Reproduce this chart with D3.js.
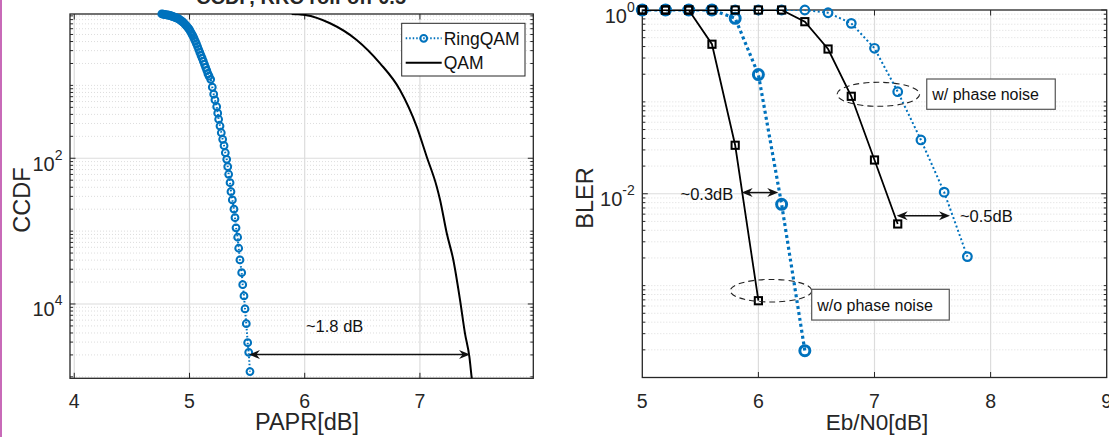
<!DOCTYPE html>
<html>
<head>
<meta charset="utf-8">
<script src="https://cdn.jsdelivr.net/npm/d3@7"></script>
<style>
  body { margin: 0; background: #fff; }
  svg { display: block; font-family: "Liberation Sans", Arial, Helvetica, sans-serif; }
</style>
</head>
<body>
<svg id="chart" width="1109" height="437"></svg>
<script>
// ---- left panel : CCDF of PAPR
var paprRing = [4.76,4.77,4.78,4.79,4.80,4.81,4.82,4.83,4.84,4.85,4.86,4.87,4.88,4.89,4.90,
  4.91,4.92,4.93,4.94,4.95,4.96,4.97,4.98,4.99,5.00,5.01,5.02,5.03,5.04,5.05,5.06,5.07,5.08,
  5.09,5.10,5.11,5.12,5.13,5.14,5.15,5.16,5.17,
  5.184,5.198,5.210,5.221,5.236,5.245,5.253,5.265,5.276,5.288,5.300,5.311,5.323,5.332,5.340,
  5.352,5.360,5.372,5.386,5.395,5.404,5.418,5.427,5.438,5.453,5.462,5.473,5.482,5.493,5.505,
  5.514,5.525];
var ccdfRing = [0.957,0.951,0.944,0.938,0.931,0.925,0.918,0.912,0.902,0.889,0.877,0.865,0.853,0.841,0.830,
  0.809,0.787,0.766,0.745,0.724,0.695,0.667,0.638,0.611,0.581,0.545,0.511,0.478,0.441,0.406,0.374,0.342,0.311,
  0.283,0.258,0.236,0.215,0.195,0.177,0.161,0.145,0.134,
  0.121,0.0944,0.0757,0.0631,0.0511,0.0415,0.0343,0.0277,0.0224,0.0182,0.0149,0.0119,0.00968,0.00767,0.00603,
  0.00462,0.00348,0.00268,0.00200,0.00153,0.00111,8.24e-4,5.82e-4,4.02e-4,2.69e-4,1.84e-4,1.29e-4,8.55e-5,5.37e-5,2.94e-5,
  2.17e-5,1.18e-5];
var paprQam = [5.887,5.95,6.003,6.220,6.451,6.654,6.827,6.972,7.059,7.146,7.175,7.233,7.290,7.348,7.391,7.429,7.450,7.46];
var ccdfQam = [0.957,0.944,0.927,0.713,0.421,0.201,0.0867,0.0272,0.0105,0.00407,0.00268,9.33e-4,4.02e-4,1.14e-4,3.96e-5,1.89e-5,9.5e-6,7e-6];
var paprTicks = [4, 5, 6, 7];
var ccdfMajor = [1e-4, 1e-2, 1];
var ccdfTicks = [1e-4, 1e-2];
var ccdfTickExp = ["4", "2"];     // as printed in the figure
var legendNames = ["RingQAM", "QAM"];

// ---- right panel : BLER vs Eb/N0
var ebn0 = [5, 5.2, 5.4, 5.6, 5.8, 6, 6.2, 6.4, 6.6, 6.8, 7, 7.2, 7.4, 7.6, 7.8];
var blerRingNoPN = [1, 1, 1, 1, 0.812, 0.198, 0.00768, 1.96e-4];
var blerRingPN   = [1, 1, 1, 1, 1, 1, 1, 1, 0.933, 0.716, 0.383, 0.129, 0.0385, 0.0104, 0.00207];
var blerQamNoPN  = [1, 1, 1, 0.424, 0.0337, 6.85e-4];
var blerQamPN    = [1, 1, 1, 1, 1, 1, 1, 0.746, 0.376, 0.115, 0.0233, 0.00469];
var ebn0Ticks = [5, 6, 7, 8, 9];
var blerMajor = [1e-4, 1e-2, 1];
var blerTicks = [1, 1e-2];
var blerTickExp = ["0", "-2"];

var blue = "#0072BD", ink = "#262626";
var svg = d3.select("#chart");

// pink page edge
svg.append("rect").attr("x", 0).attr("y", 0).attr("width", 2).attr("height", 437).attr("fill", "#c86ab8");

var L = {left: 70, right: 533.3, top: 14, bottom: 378.3};
var xL = d3.scaleLinear().domain([3.963, 7.984]).range([L.left, L.right]);
var yL = d3.scaleLog().domain([Math.pow(10, -5.02), Math.pow(10, -0.02)]).range([L.bottom, L.top]);

var R = {left: 642.3, right: 1106.7, top: 10, bottom: 377.5};
var xR = d3.scaleLinear().domain([5, 9]).range([R.left, R.right]);
var yR = d3.scaleLog().domain([1e-4, 1]).range([R.bottom, R.top]);

function isMajor(v, majors) {
  return majors.some(m => Math.abs(Math.log10(v) - Math.log10(m)) < 1e-9);
}

function frame(box, x, y, xTicks, yMajor, yLab, yExp, id) {
  var g = svg.append("g");
  var d0 = y.domain()[0], d1 = y.domain()[1];
  var minor = [];
  for (var k = -6; k <= 1; k++)
    for (var m = 1; m < 10; m++) {
      var v = m * Math.pow(10, k);
      if (v >= d0 && v <= d1 && !isMajor(v, yMajor)) minor.push(v);
    }
  var yMaj = yMajor.filter(v => v >= d0 && v <= d1);
  var xIn = xTicks.filter(t => x(t) > box.left + 1 && x(t) < box.right - 1);

  // grid
  g.selectAll(".mg").data(minor).join("line")
    .attr("x1", box.left).attr("x2", box.right)
    .attr("y1", d => y(d)).attr("y2", d => y(d))
    .attr("stroke", "#d4d4d4").attr("stroke-width", 0.8).attr("stroke-dasharray", "1,2");
  g.selectAll(".Mg").data(yMaj.filter(v => y(v) > box.top + 1 && y(v) < box.bottom - 1)).join("line")
    .attr("x1", box.left).attr("x2", box.right)
    .attr("y1", d => y(d)).attr("y2", d => y(d))
    .attr("stroke", "#dcdcdc").attr("stroke-width", 1.2);
  g.selectAll(".xg").data(xIn).join("line")
    .attr("x1", d => x(d)).attr("x2", d => x(d))
    .attr("y1", box.top).attr("y2", box.bottom)
    .attr("stroke", "#dcdcdc").attr("stroke-width", 1.2);

  // ticks
  var tk = g.append("g").attr("stroke", ink).attr("stroke-width", 1);
  [box.left, box.right].forEach(function (ex) {
    var s = ex === box.left ? 1 : -1;
    tk.selectAll(null).data(minor).join("line")
      .attr("x1", ex).attr("x2", ex + s * 3).attr("y1", d => y(d)).attr("y2", d => y(d));
    tk.selectAll(null).data(yMaj).join("line")
      .attr("x1", ex).attr("x2", ex + s * 5.5).attr("y1", d => y(d)).attr("y2", d => y(d));
  });
  [box.bottom, box.top].forEach(function (ey) {
    var s = ey === box.bottom ? -1 : 1;
    tk.selectAll(null).data(xIn).join("line")
      .attr("x1", d => x(d)).attr("x2", d => x(d)).attr("y1", ey).attr("y2", ey + s * 5.5);
  });
  g.append("rect").attr("x", box.left).attr("y", box.top)
    .attr("width", box.right - box.left).attr("height", box.bottom - box.top)
    .attr("fill", "none").attr("stroke", ink).attr("stroke-width", 1.3);

  // tick labels
  g.selectAll(".xl").data(xTicks).join("text")
    .attr("x", d => x(d)).attr("y", 408).attr("text-anchor", "middle")
    .attr("font-size", 19.5).attr("fill", ink).text(d => d);
  var yl = g.selectAll(".yl").data(yLab).join("text")
    .attr("x", box.left - 7.5).attr("y", d => y(d) + 12.5).attr("text-anchor", "end")
    .attr("fill", ink);
  yl.append("tspan").attr("font-size", 20).text("10");
  yl.append("tspan").attr("font-size", 14).attr("dy", -11).text((d, i) => yExp[i]);

  svg.append("clipPath").attr("id", id).append("rect")
    .attr("x", box.left).attr("y", box.top)
    .attr("width", box.right - box.left).attr("height", box.bottom - box.top);
}

function arrowHead(g, tx, ty, dir) {
  // dir = -1 points left, +1 points right
  var p = [[tx, ty], [tx - dir * 11, ty - 4.5], [tx - dir * 7.5, ty], [tx - dir * 11, ty + 4.5]];
  g.append("path").attr("d", "M" + p.join("L") + "Z").attr("fill", "#111");
}

function doubleArrow(g, x1, x2, yy) {
  g.append("line").attr("x1", x1 + 6).attr("x2", x2 - 6).attr("y1", yy).attr("y2", yy)
    .attr("stroke", "#111").attr("stroke-width", 1.5);
  arrowHead(g, x1, yy, -1);
  arrowHead(g, x2, yy, 1);
}

// ===================== left panel =====================
frame(L, xL, yL, paprTicks, ccdfMajor, ccdfTicks, ccdfTickExp, "clipL");

var ringPts = paprRing.map((p, i) => [p, ccdfRing[i]]);
var qamPts = paprQam.map((p, i) => [p, ccdfQam[i]]);

svg.append("path").datum(ringPts)
  .attr("clip-path", "url(#clipL)")
  .attr("d", d3.line().x(d => xL(d[0])).y(d => yL(d[1])))
  .attr("fill", "none").attr("stroke", blue).attr("stroke-width", 2).attr("stroke-dasharray", "1.5,2");
svg.append("g").selectAll("circle").data(ringPts).join("circle")
  .attr("cx", d => xL(d[0])).attr("cy", d => yL(d[1])).attr("r", 3.4)
  .attr("fill", "none").attr("stroke", blue).attr("stroke-width", 2);

svg.append("path").datum(qamPts)
  .attr("clip-path", "url(#clipL)")
  .attr("d", d3.line().curve(d3.curveMonotoneX).x(d => xL(d[0])).y(d => yL(d[1])))
  .attr("fill", "none").attr("stroke", "#000").attr("stroke-width", 2);

// clipped title above the axes
svg.append("text").attr("x", 301).attr("y", 4).attr("text-anchor", "middle")
  .attr("font-size", 20).attr("font-weight", "bold").attr("fill", ink)
  .text("CCDF, RRC roll-off 0.5");

// PAPR gap annotation
var annL = svg.append("g");
doubleArrow(annL, xL(5.516), xL(7.435), yL(2.02e-5));
annL.append("text").attr("x", xL(6.011)).attr("y", yL(4.15e-5))
  .attr("font-size", 16.5).attr("fill", "#111").text("~1.8 dB");

// legend
var lg = svg.append("g").attr("transform", "translate(401.7,23.3)");
lg.append("rect").attr("width", 123.3).attr("height", 52.7)
  .attr("fill", "#fff").attr("stroke", ink).attr("stroke-width", 1);
lg.append("line").attr("x1", 4).attr("x2", 40).attr("y1", 15).attr("y2", 15)
  .attr("stroke", blue).attr("stroke-width", 2).attr("stroke-dasharray", "1.5,2");
lg.append("circle").attr("cx", 22).attr("cy", 15).attr("r", 3.4)
  .attr("fill", "none").attr("stroke", blue).attr("stroke-width", 2);
lg.append("line").attr("x1", 4).attr("x2", 40).attr("y1", 39.4).attr("y2", 39.4)
  .attr("stroke", "#000").attr("stroke-width", 2);
lg.selectAll("text").data(legendNames).join("text")
  .attr("x", 42).attr("y", (d, i) => 21.5 + i * 24.4)
  .attr("font-size", 17.5).attr("fill", "#111").text(d => d);

// axis labels
svg.append("text").attr("x", 307).attr("y", 430).attr("text-anchor", "middle")
  .attr("font-size", 23.5).attr("fill", ink).text("PAPR[dB]");
svg.append("text").attr("transform", "translate(30,200) rotate(-90)").attr("text-anchor", "middle")
  .attr("font-size", 23.5).attr("fill", ink).text("CCDF");

// ===================== right panel =====================
frame(R, xR, yR, ebn0Ticks, blerMajor, blerTicks, blerTickExp, "clipR");

function series(vals, opt) {
  var pts = vals.map((v, i) => [ebn0[i], v]);
  svg.append("path").datum(pts)
    .attr("clip-path", "url(#clipR)")
    .attr("d", d3.line().x(d => xR(d[0])).y(d => yR(d[1])))
    .attr("fill", "none").attr("stroke", opt.color).attr("stroke-width", opt.lw)
    .attr("stroke-dasharray", opt.dash || null);
  var mg = svg.append("g");
  if (opt.marker === "circle") {
    mg.selectAll("circle").data(pts).join("circle")
      .attr("cx", d => xR(d[0])).attr("cy", d => yR(d[1])).attr("r", opt.size)
      .attr("fill", "none").attr("stroke", opt.color).attr("stroke-width", opt.mw);
  } else {
    mg.selectAll("rect").data(pts).join("rect")
      .attr("x", d => xR(d[0]) - opt.size).attr("y", d => yR(d[1]) - opt.size)
      .attr("width", opt.size * 2).attr("height", opt.size * 2)
      .attr("fill", "none").attr("stroke", opt.color).attr("stroke-width", opt.mw);
  }
}

series(blerRingNoPN, {color: blue, lw: 3.2, dash: "3,3", marker: "circle", size: 5, mw: 3});
series(blerRingPN, {color: blue, lw: 2, dash: "2,2.5", marker: "circle", size: 4.3, mw: 2.2});
series(blerQamNoPN, {color: "#000", lw: 1.8, marker: "square", size: 3.6, mw: 2});
series(blerQamPN, {color: "#000", lw: 1.8, marker: "square", size: 3.6, mw: 2});

// annotations
var annR = svg.append("g");
doubleArrow(annR, xR(5.856), xR(6.171), yR(0.0103));
annR.append("text").attr("x", xR(5.784)).attr("y", yR(0.00855)).attr("text-anchor", "end")
  .attr("font-size", 16.5).attr("fill", "#111").text("~0.3dB");
doubleArrow(annR, xR(7.191), xR(7.650), yR(0.00577));
annR.append("text").attr("x", xR(7.736)).attr("y", yR(0.00496))
  .attr("font-size", 16.5).attr("fill", "#111").text("~0.5dB");

var notes = [
  {cx: 7.033, cy: 0.121, rx: 41.3, ry: 12, x0: 7.450, x1: 8.557, y0: 0.1774, y1: 0.083, label: "w/ phase noise"},
  {cx: 6.109, cy: 8.8e-4, rx: 40.8, ry: 11.3, x0: 6.459, x1: 7.644, y0: 9.12e-4, y1: 4.22e-4, label: "w/o phase noise"}
];
notes.forEach(function (n) {
  annR.append("ellipse").attr("cx", xR(n.cx)).attr("cy", yR(n.cy)).attr("rx", n.rx).attr("ry", n.ry)
    .attr("fill", "none").attr("stroke", "#222").attr("stroke-width", 1.1).attr("stroke-dasharray", "6,4");
  annR.append("rect").attr("x", xR(n.x0)).attr("y", yR(n.y0))
    .attr("width", xR(n.x1) - xR(n.x0)).attr("height", yR(n.y1) - yR(n.y0))
    .attr("fill", "#fff").attr("stroke", "#555").attr("stroke-width", 1.2);
  annR.append("text").attr("x", xR(n.x0) + 5.5).attr("y", (yR(n.y0) + yR(n.y1)) / 2 + 6)
    .attr("font-size", 16).attr("fill", "#111").text(n.label);
});

svg.append("text").attr("x", 877).attr("y", 430).attr("text-anchor", "middle")
  .attr("font-size", 22.5).attr("fill", ink).text("Eb/N0[dB]");
svg.append("text").attr("transform", "translate(593,198) rotate(-90)").attr("text-anchor", "middle")
  .attr("font-size", 23.5).attr("fill", ink).text("BLER");
</script>
</body>
</html>
